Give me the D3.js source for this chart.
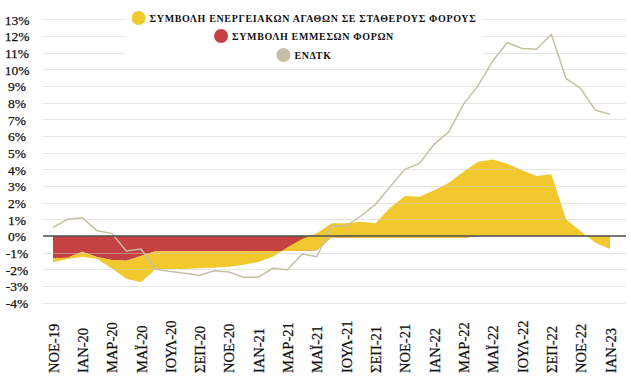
<!DOCTYPE html>
<html>
<head>
<meta charset="utf-8">
<script src="https://cdn.jsdelivr.net/npm/d3@7"></script>
<style>
  html, body { margin: 0; padding: 0; background: #fff; }
  svg { display: block; }
</style>
</head>
<body>
<svg id="chart" width="631" height="382"></svg>
<script>
// ---- DATA ----
const months = [
  "ΝΟΕ-19","ΔΕΚ-19",
  "ΙΑΝ-20","ΦΕΒ-20","ΜΑΡ-20","ΑΠΡ-20","ΜΑΪ-20","ΙΟΥΝ-20","ΙΟΥΛ-20","ΑΥΓ-20","ΣΕΠ-20","ΟΚΤ-20","ΝΟΕ-20","ΔΕΚ-20",
  "ΙΑΝ-21","ΦΕΒ-21","ΜΑΡ-21","ΑΠΡ-21","ΜΑΪ-21","ΙΟΥΝ-21","ΙΟΥΛ-21","ΑΥΓ-21","ΣΕΠ-21","ΟΚΤ-21","ΝΟΕ-21","ΔΕΚ-21",
  "ΙΑΝ-22","ΦΕΒ-22","ΜΑΡ-22","ΑΠΡ-22","ΜΑΪ-22","ΙΟΥΝ-22","ΙΟΥΛ-22","ΑΥΓ-22","ΣΕΠ-22","ΟΚΤ-22","ΝΟΕ-22","ΔΕΚ-22",
  "ΙΑΝ-23"
];
const tickMonths = months.filter((m, i) => i % 2 === 0);

// contribution of indirect taxes (%)
const indirectTaxes = [
  -1.34, -1.30, -0.94, -1.26, -1.44, -1.48, -1.20, -0.92, -0.92, -0.92, -0.92, -0.92, -0.92, -0.92,
  -0.90, -0.90, -0.90, -0.88, -0.86, -0.08, -0.10, -0.12, -0.12, -0.12, -0.12, -0.12,
  -0.12, -0.12, -0.12, 0, 0, 0, 0, 0, 0, 0, 0, 0,
  0
];
// contribution of energy goods at constant taxes (%)
const energyGoods = [
  -0.24, -0.08, -0.30, -0.10, -0.50, -1.09, -1.57, -1.06, -1.06, -1.06, -1.02, -0.98, -0.92, -0.80,
  -0.66, -0.34, 0.22, 0.70, 1.02, 0.84, 0.86, 0.98, 0.88, 1.82, 2.52, 2.48,
  2.87, 3.32, 3.97, 4.45, 4.59, 4.33, 3.95, 3.60, 3.70, 1.00, 0.28, -0.40,
  -0.78
];
// HICP (ΕΝΔΤΚ) annual change (%)
const hicp = [
  0.52, 1.00, 1.10, 0.32, 0.16, -0.90, -0.78, -1.98, -2.13, -2.24, -2.37, -2.08, -2.16, -2.47,
  -2.47, -1.94, -2.02, -1.08, -1.24, 0.60, 0.60, 1.20, 1.90, 2.95, 4.00, 4.35,
  5.50, 6.25, 7.90, 9.02, 10.50, 11.60, 11.25, 11.20, 12.10, 9.45, 8.85, 7.55,
  7.30
];
const yTicks = d3.range(-4, 14);
const legendLabels = [
  "ΣΥΜΒΟΛΗ ΕΝΕΡΓΕΙΑΚΩΝ ΑΓΑΘΩΝ ΣΕ ΣΤΑΘΕΡΟΥΣ ΦΟΡΟΥΣ",
  "ΣΥΜΒΟΛΗ ΕΜΜΕΣΩΝ ΦΟΡΩΝ",
  "ΕΝΔΤΚ"
];

// ---- STYLE ----
const colYellow = "#F1C92F";
const colRed = "#C64141";
const colGray = "#C6BFA6";
const serif = "'Liberation Serif', 'DejaVu Serif', serif";

const svg = d3.select("#chart");
const x = d3.scalePoint().domain(months).range([53, 610]);
const y = d3.scaleLinear().domain([-4, 13]).range([302.7, 19.3]);
const gridX0 = 43, gridX1 = 626;

const rows = months.map((m, i) => ({
  m, r: indirectTaxes[i], e: energyGoods[i], h: hicp[i]
}));

// red area: 0 -> r
svg.append("path")
  .datum(rows)
  .attr("fill", colRed)
  .attr("d", d3.area().x(d => x(d.m)).y0(y(0)).y1(d => y(d.r)));

// yellow area stacked on red: r -> r+e
svg.append("path")
  .datum(rows)
  .attr("fill", colYellow)
  .attr("d", d3.area().x(d => x(d.m)).y0(d => y(d.r)).y1(d => y(d.r + d.e)));

// gridlines (drawn over areas, semi transparent)
svg.append("g")
  .selectAll("line")
  .data(yTicks.filter(t => t !== 0))
  .join("line")
  .attr("x1", gridX0).attr("x2", gridX1)
  .attr("y1", d => Math.round(y(d)) + 0.5).attr("y2", d => Math.round(y(d)) + 0.5)
  .attr("stroke", "rgb(205,205,205)")
  .attr("stroke-opacity", 0.5)
  .attr("stroke-width", 1);

// HICP line
svg.append("path")
  .datum(rows)
  .attr("fill", "none")
  .attr("stroke", colGray)
  .attr("stroke-width", 1.5)
  .attr("d", d3.line().x(d => x(d.m)).y(d => y(d.h)));

// zero line
svg.append("line")
  .attr("x1", gridX0).attr("x2", gridX1)
  .attr("y1", y(0)).attr("y2", y(0))
  .attr("stroke", "#555")
  .attr("stroke-opacity", 0.8)
  .attr("stroke-width", 2.2);

// y axis labels
const yAxis = d3.axisLeft(y).tickValues(yTicks).tickFormat(d => d + "%").tickSize(0);
const gy = svg.append("g").attr("transform", "translate(17,0)").call(yAxis);
gy.select(".domain").remove();
gy.selectAll("text")
  .attr("x", 0).attr("text-anchor", "middle")
  .attr("font-family", serif).attr("font-size", 13.5).attr("fill", "#111")
  .attr("stroke", "#111").attr("stroke-width", 0.25)
  .attr("dy", "0.35em");

// x axis labels
const xAxis = d3.axisBottom(x).tickValues(tickMonths).tickSize(0);
const gx = svg.append("g").attr("transform", "translate(0,373)").call(xAxis);
gx.select(".domain").remove();
gx.selectAll("text")
  .attr("transform", "rotate(-90)")
  .attr("x", 0).attr("y", 0).attr("dy", "0.35em").attr("dx", 0)
  .attr("text-anchor", "start")
  .attr("font-family", serif).attr("font-size", 14.5).attr("fill", "#111")
  .attr("stroke", "#111").attr("stroke-width", 0.25);

// legend
svg.append("rect").attr("x", 125).attr("y", 6).attr("width", 358).attr("height", 57).attr("fill", "#fff");
const legendColors = [colYellow, colRed, colGray];
const legendY = [18, 36, 55];
const lg = svg.append("g");
legendLabels.forEach((lab, i) => {
  const t = lg.append("text")
    .attr("y", legendY[i]).attr("dy", "0.35em")
    .attr("font-family", serif).attr("font-weight", "bold")
    .attr("font-size", 10).attr("letter-spacing", 0.65).attr("fill", "#111")
    .text(lab);
  const w = t.node().getComputedTextLength();
  const total = 14 + 4 + w;
  const x0 = 304 - total / 2;
  lg.append("circle").attr("cx", x0 + 7).attr("cy", legendY[i]).attr("r", 7).attr("fill", legendColors[i]);
  t.attr("x", x0 + 18);
});
</script>
</body>
</html>
